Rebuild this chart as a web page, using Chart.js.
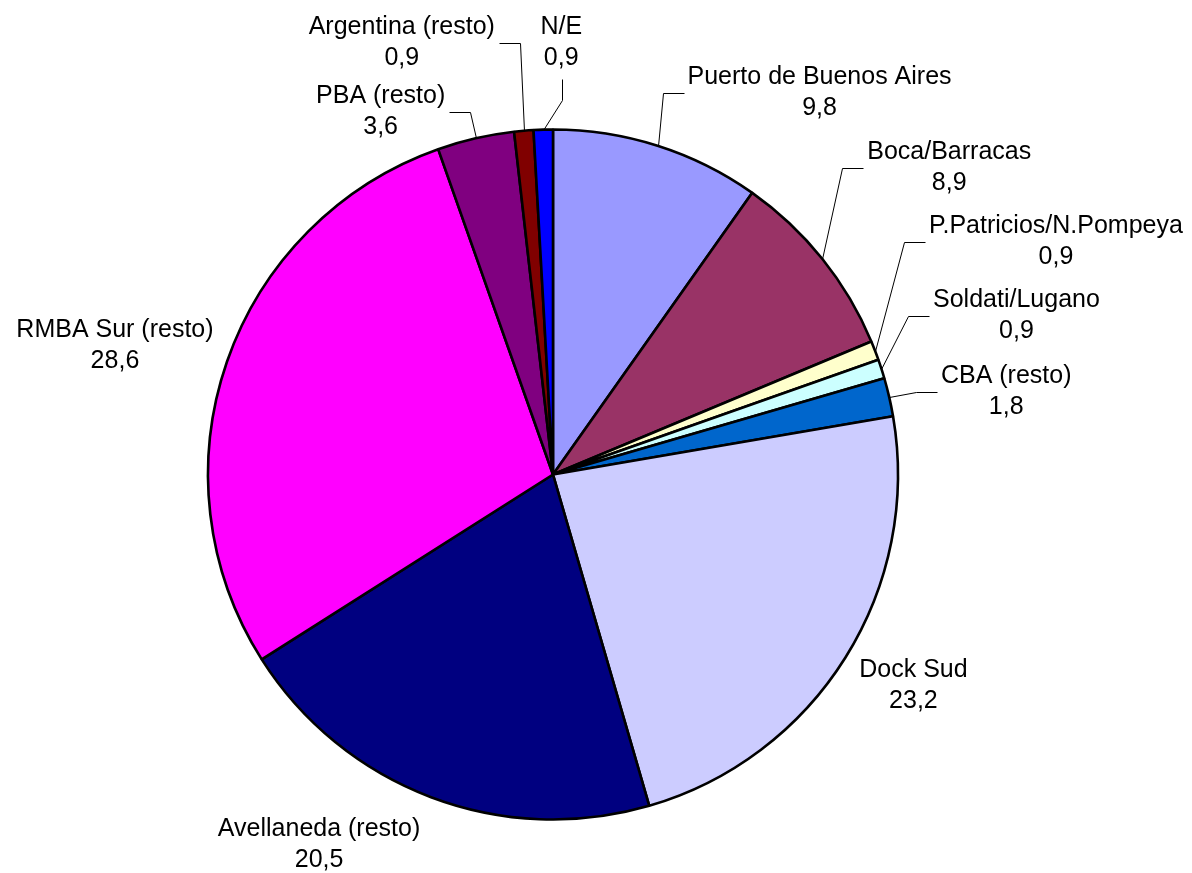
<!DOCTYPE html>
<html lang="es">
<head>
<meta charset="UTF-8" />
<title>Distribución por origen</title>
<script src="https://cdn.jsdelivr.net/npm/chart.js"></script>
<style>
  html, body { margin: 0; padding: 0; background: #fff; }
  #wrap { width: 1192px; height: 873px; }
</style>
</head>
<body>
<div id="wrap"><canvas id="pie" width="1192" height="873"></canvas></div>
<script>
// datos
const categorias = [
  "Puerto de Buenos Aires", "Boca/Barracas", "P.Patricios/N.Pompeya",
  "Soldati/Lugano", "CBA (resto)", "Dock Sud", "Avellaneda (resto)",
  "RMBA Sur (resto)", "PBA (resto)", "Argentina (resto)", "N/E"
];
const valores = [9.8, 8.9, 0.9, 0.9, 1.8, 23.2, 20.5, 28.6, 3.6, 0.9, 0.9];
const colores = [
  "#9999FF", "#993366", "#FFFFCC", "#CCFFFF", "#0066CC", "#CCCCFF",
  "#000080", "#FF00FF", "#800080", "#800000", "#0000FF"
];

// ubicación de etiquetas: desplazamiento desde el borde de cada porción, y lado de la línea guía
const etiquetaOffset = [
  [162, -62], [127, -100], [181, -118], [135, -62], [117, -14], [68, 19],
  [-112, 39], [-112, -25], [-95, -35], [-122, -97], [18, -96]
];
const etiquetaGuia = [
  "right", "right", "right", "right", "right", null,
  null, null, "left", "left", "below"
];

const FONT = "25px 'Liberation Sans', Arial, sans-serif";
const LINE_H = 31;

const etiquetas = {
  id: "etiquetas",
  afterDatasetsDraw(chart) {
    const ctx = chart.ctx;
    const arcs = chart.getDatasetMeta(0).data;
    ctx.save();
    ctx.font = FONT;
    ctx.fillStyle = "#000";
    ctx.strokeStyle = "#000";
    ctx.lineWidth = 1;
    ctx.textAlign = "center";
    ctx.textBaseline = "alphabetic";
    arcs.forEach((arc, i) => {
      const p = arc.getProps(["x", "y", "startAngle", "endAngle", "outerRadius"], true);
      const mid = (p.startAngle + p.endAngle) / 2;
      const ex = p.x + Math.cos(mid) * p.outerRadius;
      const ey = p.y + Math.sin(mid) * p.outerRadius;
      const lx = ex + etiquetaOffset[i][0];
      const ly = ey + etiquetaOffset[i][1];
      const t1 = categorias[i];
      const t2 = valores[i].toFixed(1).replace(".", ",");
      ctx.fillText(t1, lx, ly);
      ctx.fillText(t2, lx, ly + LINE_H);

      const lado = etiquetaGuia[i];
      if (!lado) return;
      const w = ctx.measureText(t1).width;
      let endX, endY, elbX, elbY;
      if (lado === "right") {
        endX = lx - w / 2 - 4; endY = ly + 9;
        elbX = endX - 21; elbY = endY;
      } else if (lado === "left") {
        endX = lx + w / 2 + 4; endY = ly + 9;
        elbX = endX + 21; elbY = endY;
      } else {
        endX = lx + 1; endY = ly + LINE_H + 14;
        elbX = endX; elbY = ly + LINE_H + 35;
      }
      ctx.beginPath();
      ctx.moveTo(Math.round(ex) + 0.5, Math.round(ey) + 0.5);
      ctx.lineTo(Math.round(elbX) + 0.5, Math.round(elbY) + 0.5);
      ctx.lineTo(Math.round(endX) + 0.5, Math.round(endY) + 0.5);
      ctx.stroke();
    });
    ctx.restore();
  }
};

new Chart(document.getElementById("pie").getContext("2d"), {
  type: "pie",
  data: {
    labels: categorias,
    datasets: [{
      data: valores,
      backgroundColor: colores,
      borderColor: "#000",
      borderWidth: 2.6
    }]
  },
  options: {
    responsive: false,
    animation: false,
    radius: 345,
    layout: { padding: { top: 120, bottom: 44, left: 100, right: 186 } },
    plugins: {
      legend: { display: false },
      tooltip: { enabled: false }
    }
  },
  plugins: [etiquetas]
});
</script>
</body>
</html>
